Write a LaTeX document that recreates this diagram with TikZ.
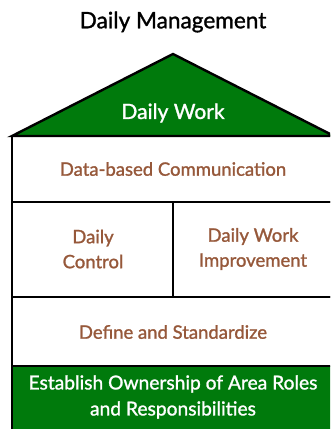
\documentclass[tikz,border=0pt]{standalone}
\usepackage{fontspec}
\setmainfont{Lato}
\newfontfamily\housefont{Lato}[FakeBold=1.3]
\definecolor{housegreen}{RGB}{0,122,12}
\definecolor{labelbrown}{RGB}{150,88,58}
\begin{document}
\begin{tikzpicture}[x=1pt, y=-1pt, line width=2.4pt,
    brownlabel/.style={text=labelbrown, font=\housefont\fontsize{18.5}{25}\selectfont, align=center},
    whitelabel/.style={text=white, font=\housefont\fontsize{19.2}{26}\selectfont, align=center}]
    \useasboundingbox (0,0) rectangle (330,429);
    \clip (0,0) rectangle (330,429);

    % roof and foundation
    \draw[fill=housegreen] (12,136) -- (173,54) -- (334,136) -- cycle;
    \fill[housegreen] (12,366) rectangle (334,440);

    % floors
    \draw (12,136) rectangle (334,202);
    \draw (12,202) rectangle (334,297);
    \draw (173,202) -- (173,297);
    \draw (12,297) rectangle (334,366);
    \draw (12,366) -- (12,440);
    \draw (334,366) -- (334,440);

    \node[font=\housefont\fontsize{22.6}{25}\selectfont] (title) at (173,22) {Daily Management};
    \node[whitelabel, font=\housefont\fontsize{21}{26}\selectfont] (work) at (173,113) {Daily Work};
    \node[brownlabel] (comm) at (173,169) {Data-based Communication};
    \node[brownlabel] (control) at (93,249) {Daily\\Control};
    \node[brownlabel] (improve) at (253,249) {Daily Work\\Improvement};
    \node[brownlabel] (define) at (173,332) {Define and Standardize};
    \node[whitelabel] (owner) at (173,397) {Establish Ownership of Area Roles\\and Responsibilities};
\end{tikzpicture}
\end{document}
